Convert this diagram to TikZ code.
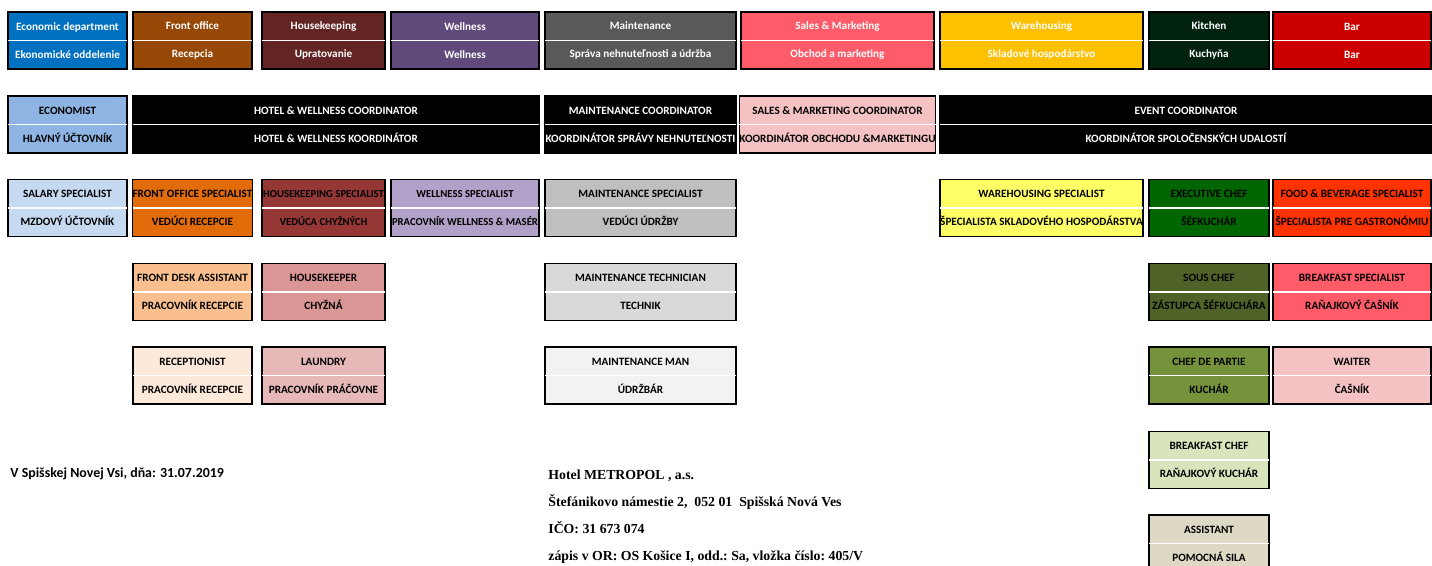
\documentclass[tikz,border=0pt]{standalone}
\usepackage{fontspec}
\setmainfont{Carlito}
\newfontfamily\footfont{Liberation Serif}
\usepackage{xcolor}
\definecolor{econ}{HTML}{0070C0}
\definecolor{frontoff}{HTML}{974706}
\definecolor{housekeep}{HTML}{632523}
\definecolor{wellness}{HTML}{604A7B}
\definecolor{maint}{HTML}{595959}
\definecolor{sales}{HTML}{FF5B69}
\definecolor{wareh}{HTML}{FFC000}
\definecolor{kitchen}{HTML}{00220F}
\definecolor{bar}{HTML}{CC0000}
\definecolor{economist}{HTML}{8DB4E2}
\definecolor{salescoord}{HTML}{F4C2C2}
\definecolor{salary}{HTML}{C5D9F1}
\definecolor{fospec}{HTML}{E26B0A}
\definecolor{hkspec}{HTML}{953735}
\definecolor{wellspec}{HTML}{B1A0C7}
\definecolor{maintspec}{HTML}{BFBFBF}
\definecolor{warespec}{HTML}{FFFF66}
\definecolor{execchef}{HTML}{006600}
\definecolor{fbspec}{HTML}{FF3300}
\definecolor{fdassist}{HTML}{FABF8F}
\definecolor{hkeeper}{HTML}{DA9694}
\definecolor{mainttech}{HTML}{D9D9D9}
\definecolor{souschef}{HTML}{4F6228}
\definecolor{reception}{HTML}{FDE9D9}
\definecolor{laundry}{HTML}{E6B8B7}
\definecolor{maintman}{HTML}{F2F2F2}
\definecolor{chefpartie}{HTML}{76933C}
\definecolor{bfchef}{HTML}{D8E4BC}
\definecolor{assist}{HTML}{DDD9C4}
\usepackage{tikz}
\usetikzlibrary{positioning}

\begin{document}
\begin{tikzpicture}[x=0.5pt,y=-0.5pt,
      rolebox/.style={draw=black,line width=0.75pt,inner sep=0pt,
        minimum height=28.5pt,align=center,
        font=\bfseries\fontsize{5.6}{14}\selectfont},
      tight/.style={font=\bfseries\fontsize{5.35}{14}\selectfont},
      unit/.style={rolebox,text=white},
      w1/.style={minimum width=59.5pt},
      w2/.style={minimum width=59.5pt},
      w3/.style={minimum width=61.5pt},
      w4/.style={minimum width=74pt},
      w5/.style={minimum width=95.5pt},
      w6/.style={minimum width=96.5pt},
      w7/.style={minimum width=101.5pt},
      w8/.style={minimum width=60pt},
      w9/.style={minimum width=79pt},
      divider/.style={white,line width=0.6pt},
      footline/.style={anchor=base west,inner sep=0pt,font=\footfont\bfseries\frenchspacing\fontsize{6.9}{8}\selectfont},
      ]
      \clip (0,0) rectangle (1432,566);
      \fill[white] (0,0) rectangle (1432,566);

      \node[unit,w1,fill=econ] (econ) at (67.5,40.5) {Economic department\\Ekonomické oddelenie};
      \node[unit,w2,fill=frontoff] (front) at (192.5,40.5) {Front office\\Recepcia};
      \node[unit,w3,fill=housekeep] (house) at (323.5,40.5) {Housekeeping\\Upratovanie};
      \node[unit,w4,fill=wellness] (well) at (465,40.5) {Wellness\\Wellness};
      \node[unit,w5,fill=maint] (maint) at (640.5,40.5) {Maintenance\\Správa nehnuteľnosti a údržba};
      \node[unit,w6,fill=sales] (sales) at (837.5,40.5) {Sales \& Marketing\\Obchod a marketing};
      \node[unit,w7,fill=wareh] (ware) at (1041.5,40.5) {Warehousing\\Skladové hospodárstvo};
      \node[unit,w8,fill=kitchen] (kitch) at (1209,40.5) {Kitchen\\Kuchyňa};
      \node[unit,w9,fill=bar] (bar) at (1352,40.5) {Bar\\Bar};

      \node[rolebox,w1,fill=economist] (ecmist) at (67.5,124.5) {ECONOMIST\\HLAVNÝ ÚČTOVNÍK};
      \node[unit,minimum width=203pt,fill=black] (hwcoord) at (336,124.5) {HOTEL \& WELLNESS COORDINATOR\\HOTEL \& WELLNESS KOORDINÁTOR};
      \node[unit,w5,fill=black] (mcoord) at (640.5,124.5) {MAINTENANCE COORDINATOR\\KOORDINÁTOR SPRÁVY NEHNUTEĽNOSTI};
      \node[rolebox,w6,fill=salescoord] (scoord) at (837.5,124.5) {SALES \& MARKETING COORDINATOR\\KOORDINÁTOR OBCHODU \&MARKETINGU};
      \node[unit,minimum width=246pt,fill=black] (ecoord) at (1186,124.5) {EVENT COORDINATOR\\KOORDINÁTOR SPOLOČENSKÝCH UDALOSTÍ};

      \node[rolebox,w1,fill=salary] (salary) at (67.5,208) {SALARY SPECIALIST\\MZDOVÝ ÚČTOVNÍK};
      \node[rolebox,w2,fill=fospec] (fospec) at (192.5,208) {FRONT OFFICE SPECIALIST\\VEDÚCI RECEPCIE};
      \node[rolebox,tight,w3,fill=hkspec] (hkspec) at (323.5,208) {HOUSEKEEPING SPECIALIST\\VEDÚCA CHYŽNÝCH};
      \node[rolebox,tight,w4,fill=wellspec] (wspec) at (465,208) {WELLNESS SPECIALIST\\PRACOVNÍK WELLNESS \& MASÉR};
      \node[rolebox,w5,fill=maintspec] (mspec) at (640.5,208) {MAINTENANCE SPECIALIST\\VEDÚCI ÚDRŽBY};
      \node[rolebox,w7,fill=warespec] (wrspec) at (1041.5,208) {WAREHOUSING SPECIALIST\\ŠPECIALISTA SKLADOVÉHO HOSPODÁRSTVA};
      \node[rolebox,w8,fill=execchef] (exchef) at (1209,208) {EXECUTIVE CHEF\\ŠÉFKUCHÁR};
      \node[rolebox,w9,fill=fbspec] (fbspec) at (1352,208) {FOOD \& BEVERAGE SPECIALIST\\ŠPECIALISTA PRE GASTRONÓMIU};

      \node[rolebox,w2,fill=fdassist] (fdesk) at (192.5,292) {FRONT DESK ASSISTANT\\PRACOVNÍK RECEPCIE};
      \node[rolebox,w3,fill=hkeeper] (hkeeper) at (323.5,292) {HOUSEKEEPER\\CHYŽNÁ};
      \node[rolebox,w5,fill=mainttech] (mtech) at (640.5,292) {MAINTENANCE TECHNICIAN\\TECHNIK};
      \node[rolebox,w8,fill=souschef] (sous) at (1209,292) {SOUS CHEF\\ZÁSTUPCA ŠÉFKUCHÁRA};
      \node[rolebox,w9,fill=sales] (bfspec) at (1352,292) {BREAKFAST SPECIALIST\\RAŇAJKOVÝ ČAŠNÍK};

      \node[rolebox,w2,fill=reception] (recep) at (192.5,375.5) {RECEPTIONIST\\PRACOVNÍK RECEPCIE};
      \node[rolebox,w3,fill=laundry] (laund) at (323.5,375.5) {LAUNDRY\\PRACOVNÍK PRÁČOVNE};
      \node[rolebox,w5,fill=maintman] (mman) at (640.5,375.5) {MAINTENANCE MAN\\ÚDRŽBÁR};
      \node[rolebox,w8,fill=chefpartie] (partie) at (1209,375.5) {CHEF DE PARTIE\\KUCHÁR};
      \node[rolebox,w9,fill=salescoord] (waiter) at (1352,375.5) {WAITER\\ČAŠNÍK};

      \node[rolebox,w8,fill=bfchef] (bfchef) at (1209,460) {BREAKFAST CHEF\\RAŇAJKOVÝ KUCHÁR};
      \node[rolebox,w8,fill=assist] (assist) at (1209,543.5) {ASSISTANT\\POMOCNÁ SILA};

      \foreach \n in {econ,front,house,well,maint,sales,ware,kitch,bar,
          ecmist,hwcoord,mcoord,scoord,ecoord,
          salary,fospec,hkspec,wspec,mspec,wrspec,exchef,fbspec,
          fdesk,hkeeper,mtech,sous,bfspec,
          recep,laund,mman,partie,waiter,bfchef,assist}
        \draw[divider] ([xshift=0.4pt]\n.west) -- ([xshift=-0.4pt]\n.east);

      \node[anchor=base west,inner sep=0pt,font=\bfseries\fontsize{6.95}{8}\selectfont] (place) at (10,478) {V Spišskej Novej Vsi, dňa: 31.07.2019};
      \node[footline] (hotel) at (548,480) {Hotel METROPOL , a.s.};
      \node[footline] (addr) at (548,507) {Štefánikovo námestie 2,\ \ 052 01\ \ Spišská Nová Ves};
      \node[footline] (ico) at (548,534) {IČO: 31 673 074};
      \node[footline] (reg) at (548,561) {zápis v OR: OS Košice I, odd.: Sa, vložka číslo: 405/V};
\end{tikzpicture}
\end{document}
